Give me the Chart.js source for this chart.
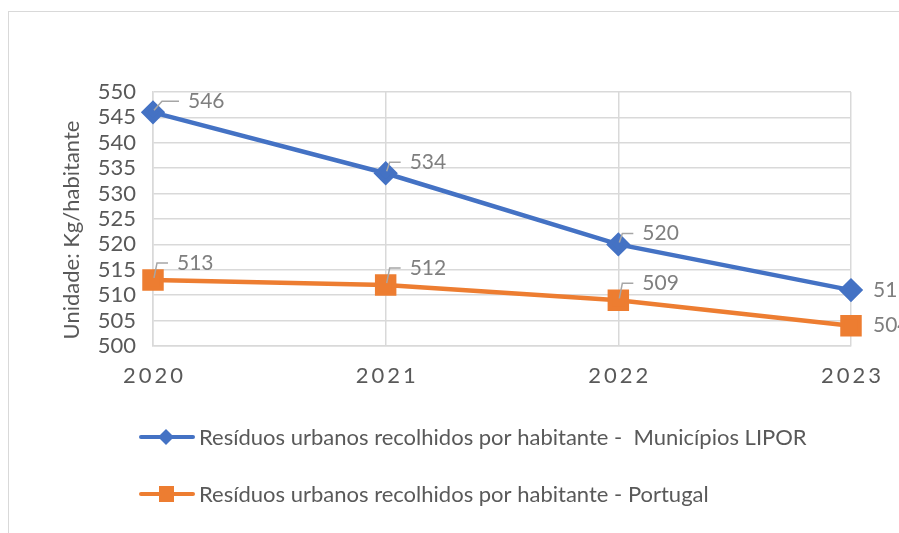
<!DOCTYPE html>
<html>
<head>
<meta charset="utf-8">
<script src="https://cdn.jsdelivr.net/npm/chart.js@4"></script>
<style>
  html, body { margin: 0; padding: 0; background: #fff; overflow: hidden; }
  #wrap { position: relative; width: 899px; height: 533px; }
  #frame { position: absolute; left: 8px; top: 11px; width: 1000px; height: 600px; border: 1px solid #d9d9d9; }
  canvas { position: absolute; left: 0; top: 0; }
</style>
</head>
<body>
<div id="wrap">
  <div id="frame"></div>
  <canvas id="chart" width="899" height="533"></canvas>
</div>
<script>
const years = ["2020", "2021", "2022", "2023"];
const lipor = [546, 534, 520, 511];
const portugal = [513, 512, 509, 504];
const seriesNames = [
    "Resíduos urbanos recolhidos por habitante -  Municípios LIPOR",
    "Resíduos urbanos recolhidos por habitante - Portugal"
];
const yTitle = "Unidade: Kg/habitante";

const FONT = "Lato, 'Open Sans', sans-serif";
const textGray = "#595959";

// draws data labels, x labels, y title and legend
const extras = {
    id: "extras",
    afterDatasetsDraw(chart) {
        const ctx = chart.ctx;
        ctx.save();
        // data labels
        ctx.font = "21px " + FONT;
        ctx.textBaseline = "middle";
        ctx.textAlign = "left";
        chart.data.datasets.forEach((ds, di) => {
            const meta = chart.getDatasetMeta(di);
            meta.data.forEach((pt, i) => {
                const txt = String(ds.data[i]);
                ctx.fillStyle = "#7f7f7f";
                if (i === meta.data.length - 1) {
                    ctx.fillText(txt, pt.x + 22, pt.y);
                    return;
                }
                const big = (di === 0 && i === 0);
                const dy = di === 0 ? -11 : -17;
                const lx = big ? 26 : 15;
                const tx = big ? 35 : 24;
                ctx.strokeStyle = "#a6a6a6";
                ctx.lineWidth = 1.5;
                ctx.beginPath();
                ctx.moveTo(pt.x + 1, pt.y - 2);
                ctx.lineTo(pt.x + (big ? 9 : 4), pt.y + dy);
                ctx.lineTo(pt.x + lx, pt.y + dy);
                ctx.stroke();
                ctx.fillText(txt, pt.x + tx, pt.y + dy);
            });
        });

        // x labels with letter spacing
        const xs = chart.scales.x;
        ctx.font = "22px " + FONT;
        ctx.fillStyle = textGray;
        ctx.textAlign = "left";
        ctx.letterSpacing = "3px";
        years.forEach((y, i) => {
            const px = xs.getPixelForValue(i);
            const w = ctx.measureText(y).width - 3;
            ctx.fillText(y, px - w / 2, chart.chartArea.bottom + 30);
        });
        ctx.letterSpacing = "0px";

        // y title
        ctx.save();
        ctx.translate(72, 230);
        ctx.rotate(-Math.PI / 2);
        ctx.textAlign = "center";
        ctx.font = "22px " + FONT;
        ctx.fillText(yTitle, 0, 0);
        ctx.restore();

        // legend
        const items = [
            { y: 437, color: "#4472C4", style: "diamond", name: seriesNames[0] },
            { y: 494, color: "#ED7D31", style: "square", name: seriesNames[1] }
        ];
        items.forEach(it => {
            ctx.strokeStyle = it.color;
            ctx.fillStyle = it.color;
            ctx.lineWidth = 4;
            ctx.lineCap = "round";
            ctx.beginPath();
            ctx.moveTo(141, it.y);
            ctx.lineTo(193, it.y);
            ctx.stroke();
            ctx.beginPath();
            if (it.style === "diamond") {
                ctx.moveTo(166, it.y - 8);
                ctx.lineTo(174, it.y);
                ctx.lineTo(166, it.y + 8);
                ctx.lineTo(158, it.y);
                ctx.closePath();
            } else {
                ctx.rect(159, it.y - 8, 15, 16);
            }
            ctx.fill();
            ctx.fillStyle = textGray;
            ctx.font = "22px " + FONT;
            ctx.textAlign = "left";
            ctx.fillText(it.name, 199, it.y + 1);
        });
        ctx.restore();
    }
};

new Chart(document.getElementById("chart"), {
    type: "line",
    data: {
        labels: years,
        datasets: [
            {
                label: seriesNames[0],
                data: lipor,
                borderColor: "#4472C4",
                backgroundColor: "#4472C4",
                borderWidth: 4.5,
                pointStyle: "rectRot",
                pointRadius: 9,
                pointHoverRadius: 9,
                tension: 0
            },
            {
                label: seriesNames[1],
                data: portugal,
                borderColor: "#ED7D31",
                backgroundColor: "#ED7D31",
                borderWidth: 4.5,
                pointStyle: "rect",
                pointRadius: 12,
                pointHoverRadius: 12,
                tension: 0
            }
        ]
    },
    options: {
        responsive: false,
        animation: false,
        layout: { padding: { top: 92, right: 48, left: 0, bottom: 0 } },
        plugins: {
            legend: { display: false },
            tooltip: { enabled: false }
        },
        scales: {
            x: {
                offset: false,
                afterFit: s => { s.height = 187; },
                ticks: { display: false },
                grid: { color: "#d9d9d9", lineWidth: 1.5, drawTicks: false },
                border: { color: "#d9d9d9", width: 1.5 }
            },
            y: {
                min: 500,
                max: 550,
                afterFit: s => { s.width = 153; },
                ticks: {
                    stepSize: 5,
                    autoSkip: false,
                    padding: 17,
                    color: textGray,
                    font: { family: FONT, size: 22 }
                },
                grid: { color: "#d9d9d9", lineWidth: 1.5, drawTicks: false },
                border: { color: "#d9d9d9", width: 1.5 }
            }
        }
    },
    plugins: [extras]
});
</script>
</body>
</html>
